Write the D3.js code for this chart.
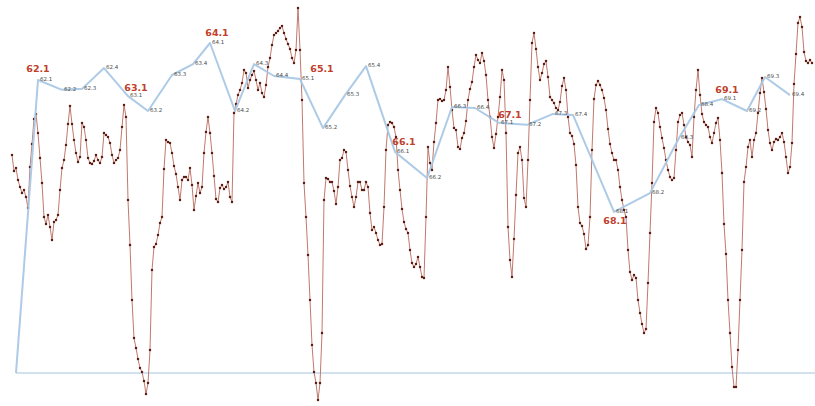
<!DOCTYPE html>
<html>
<head>
<meta charset="utf-8">
<script src="https://cdn.jsdelivr.net/npm/d3@7"></script>
<style>
  html, body { margin: 0; padding: 0; background: #ffffff; }
  svg { display: block; }
</style>
</head>
<body>
<svg id="chart" width="815" height="406"></svg>
<script>
// Weekly index series (one reading per week, starting at week 0)
const weeklyIndex = [
  265,249,252,240,233,227,230,223,212,253,
  276,301,306,287,262,237,203,196,205,193,
  180,198,200,205,230,252,260,275,296,314,
  296,280,267,258,263,297,293,280,262,257,
  256,259,265,260,257,263,287,285,283,277,
  265,257,260,262,270,293,315,303,220,175,
  120,82,72,61,52,48,39,26,37,70,
  150,173,176,185,197,203,251,280,278,277,
  267,254,246,233,220,240,243,243,240,252,
  235,210,224,237,227,233,267,288,303,287,
  267,244,221,218,232,235,231,233,238,223,
  218,307,316,325,330,337,350,347,332,340,
  345,349,340,330,337,327,323,335,353,362,
  375,385,387,389,392,394,387,381,376,371,
  362,357,370,412,370,320,237,203,165,120,
  75,48,37,20,37,87,220,242,241,238,
  238,229,216,233,260,262,270,268,250,234,
  223,213,223,238,238,230,230,238,233,207,
  190,193,187,180,175,176,213,270,295,298,
  297,293,283,250,230,211,198,191,187,170,
  157,153,156,163,153,143,142,203,273,257,
  250,278,297,320,321,319,320,330,353,333,
  310,292,290,273,271,282,287,299,320,331,
  338,353,365,360,357,367,359,345,320,303,
  283,272,286,303,323,350,340,287,193,160,
  143,181,225,267,273,260,222,213,260,320,
  377,387,371,353,340,347,356,359,343,323,
  320,317,312,310,318,334,342,330,303,287,
  284,276,255,213,197,194,186,171,175,203,
  270,321,335,339,335,330,322,310,291,276,
  267,260,260,250,233,220,210,203,170,148,
  140,145,142,120,107,96,87,91,137,187,
  237,298,312,307,293,282,272,260,250,243,
  240,242,270,298,305,307,295,283,278,275,
  263,303,330,350,325,306,298,295,293,283,
  277,287,297,302,280,247,196,166,120,87,
  53,33,33,70,120,170,238,253,273,280,
  263,280,287,307,327,342,328,311,290,277,
  270,278,281,280,283,287,278,263,247,253,
  277,336,366,397,403,393,368,359,357,360,
  357
];

// Quarterly series: quarter labels, week of each reading, and value
const quarterLabels = [
  "", "62.1","62.2","62.3","62.4","63.1","63.2","63.3","63.4",
  "64.1","64.2","64.3","64.4","65.1","65.2","65.3","65.4",
  "66.1","66.2","66.3","66.4","67.1","67.2","67.3","67.4",
  "68.1","68.2","68.3","68.4","69.1","69.2","69.3","69.4"
];
const quarterWeeks = [
  2, 13, 25, 35, 46, 58, 68, 80, 90.5,
  99, 111.5, 121, 131, 144, 155.5, 166.5, 177,
  191.5, 207.5, 220, 231.5, 243.5, 257.5, 270.5, 280.5,
  301, 319, 333.5, 343.5, 355, 367.5, 376.5, 389
];
const quarterValues = [
  0, 88.8, 85.8, 86.1, 92.4, 83.9, 79.4, 90.3, 93.6,
  100, 79.4, 93.6, 90.0, 89.1, 74.2, 84.2, 93.0,
  67.0, 59.1, 80.6, 80.3, 75.8, 75.2, 78.5, 78.2,
  48.8, 54.5, 71.2, 81.2, 83.0, 79.4, 89.7, 84.2
];

// First quarter of each year gets a highlighted caption
const yearStarts = ["62.1","63.1","64.1","65.1","66.1","67.1","68.1","69.1"];

const svg = d3.select("#chart");
const W = 815, H = 406;

const x = d3.scaleLinear().domain([0, 400]).range([12, 812]);
const yIndex = d3.scaleLinear().domain([0, 400]).range([420, 20]);
const yQuarter = d3.scaleLinear().domain([0, 100]).range([373, 43]);

// Baseline of the quarterly series
svg.append("line")
  .attr("x1", x(quarterWeeks[0])).attr("x2", W)
  .attr("y1", yQuarter(0)).attr("y2", yQuarter(0))
  .attr("stroke", "#c3d7ea").attr("stroke-width", 1.6);

// Weekly series: thin line with a marker on every reading
const weekly = weeklyIndex.map((v, i) => ({ w: i, v }));
svg.append("path")
  .datum(weekly)
  .attr("fill", "none")
  .attr("stroke", "#b86a5e")
  .attr("stroke-width", 0.9)
  .attr("d", d3.line().x(d => x(d.w)).y(d => yIndex(d.v)));

svg.append("g")
  .selectAll("circle")
  .data(weekly)
  .join("circle")
  .attr("cx", d => x(d.w))
  .attr("cy", d => yIndex(d.v))
  .attr("r", 1.25)
  .attr("fill", "#5e1d13");

// Quarterly series
const quarterly = quarterValues.map((v, i) => ({ q: quarterLabels[i], w: quarterWeeks[i], v }));
svg.append("path")
  .datum(quarterly)
  .attr("fill", "none")
  .attr("stroke", "#a9c7e5")
  .attr("stroke-width", 2)
  .attr("stroke-linejoin", "round")
  .attr("opacity", 0.95)
  .attr("d", d3.line().x(d => x(d.w)).y(d => yQuarter(d.v)));

// Small value captions next to each quarterly point
svg.append("g")
  .selectAll("text")
  .data(quarterly.filter(d => d.q))
  .join("text")
  .attr("x", d => x(d.w) + 2)
  .attr("y", d => yQuarter(d.v) + 1)
  .attr("font-family", "DejaVu Sans, sans-serif")
  .attr("font-size", 5.5)
  .attr("fill", "#4a4a4a")
  .text(d => d.q);

// Highlighted captions for the first quarter of each year
const captionOffset = {
  "62.1": [0, -8], "63.1": [8, -5], "64.1": [7, -7], "65.1": [22, -7],
  "66.1": [9, -7], "67.1": [11, -5], "68.1": [1, 12], "69.1": [5, -6]
};
svg.append("g")
  .selectAll("text")
  .data(quarterly.filter(d => yearStarts.includes(d.q)))
  .join("text")
  .attr("x", d => x(d.w) + captionOffset[d.q][0])
  .attr("y", d => yQuarter(d.v) + captionOffset[d.q][1])
  .attr("text-anchor", "middle")
  .attr("font-family", "DejaVu Sans, sans-serif")
  .attr("font-weight", "bold")
  .attr("font-size", 9.5)
  .attr("fill", "#c0402c")
  .text(d => d.q);
</script>
</body>
</html>
